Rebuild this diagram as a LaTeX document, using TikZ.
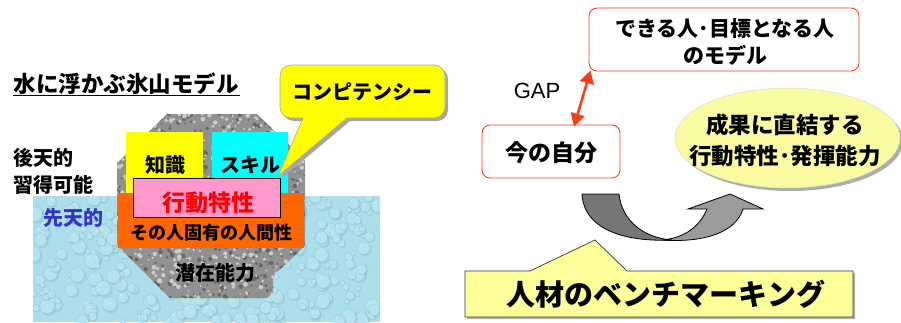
\documentclass[tikz,border=0pt]{standalone}
\usepackage{fontspec}
\setmainfont{Noto Sans CJK JP}
\newfontfamily\latinsans{Liberation Sans}
\usetikzlibrary{arrows.meta,shapes.geometric,shadows,calc}

\definecolor{waterblue}{RGB}{172,223,234}
\definecolor{dropedge}{RGB}{110,175,195}
\definecolor{granite}{RGB}{145,145,145}
\definecolor{kyellow}{RGB}{255,255,0}
\definecolor{kcyan}{RGB}{0,255,255}
\definecolor{korange}{RGB}{255,102,0}
\definecolor{kpink}{RGB}{255,153,204}
\definecolor{kblue}{RGB}{51,51,204}
\definecolor{gapred}{RGB}{255,60,20}
\definecolor{paleyellow}{RGB}{255,255,153}
\definecolor{ovalyellow}{RGB}{250,250,160}
\definecolor{arrowdark}{RGB}{118,118,118}
\definecolor{arrowlight}{RGB}{155,155,155}

\newcommand\fsz[1]{\fontsize{#1}{#1}\selectfont}

\tikzset{
  jp/.style={font=\bfseries, inner sep=0pt, text=black},
  modelbox/.style={draw=gapred, line width=0.9pt, rounded corners=8pt, fill=white, inner sep=0pt},
  gaptip/.tip={Triangle[length=13pt,width=14pt]},
  gaparrow/.style={draw=gapred, fill=gapred, line width=2.6pt, arrows={gaptip-gaptip}},
}

\begin{document}
\begin{tikzpicture}[x=1pt,y=-1pt]
\useasboundingbox (0,0) rectangle (901,322);

% ---------------- iceberg model ----------------
\node[jp, font=\bfseries\fsz{22.5}] (title) at (126,84) {水に浮かぶ氷山モデル};
\draw[line width=1.4pt] (13,95.5) -- (240,95.5);

% water with droplets
\begin{scope}
  \clip (33,196) rectangle (380,322);
  \fill[waterblue] (33,196) rectangle (380,322);
  \pgfmathsetseed{17}
  \foreach \i in {1,...,320}{
    \pgfmathsetmacro{\px}{33+347*rnd}
    \pgfmathsetmacro{\py}{196+126*rnd}
    \pgfmathsetmacro{\pr}{2+6*rnd}
    \fill[dropedge,opacity=0.22] ($(\px,\py)+(0.25*\pr,0.25*\pr)$) circle[radius=\pr pt];
    \fill[waterblue!88!white] (\px,\py) circle[radius=0.9*\pr pt];
    \draw[dropedge,opacity=0.3,line width=0.4pt] (\px,\py) circle[radius=\pr pt];
    \fill[white,opacity=0.35] ($(\px,\py)+(-0.4*\pr,-0.4*\pr)$) circle[radius=0.15*\pr pt];
  }
\end{scope}

% granite iceberg
\def\bergpath{(167,114) -- (257,114) -- (305,160) -- (305,246) -- (273,276) -- (273,292) -- (267,298) -- (170,298) -- (117,245) -- (117,163) -- cycle}
\begin{scope}
  \clip \bergpath;
  \fill[granite] \bergpath;
  \pgfmathsetseed{5}
  \foreach \i in {1,...,650}{
    \pgfmathsetmacro{\px}{115+192*rnd}
    \pgfmathsetmacro{\py}{112+188*rnd}
    \pgfmathsetmacro{\pr}{0.8+1.6*rnd}
    \fill[black!60] (\px,\py) circle[radius=\pr pt];
  }
  \foreach \i in {1,...,650}{
    \pgfmathsetmacro{\px}{115+192*rnd}
    \pgfmathsetmacro{\py}{112+188*rnd}
    \pgfmathsetmacro{\pr}{0.8+1.6*rnd}
    \fill[white!80!black] (\px,\py) circle[radius=\pr pt];
  }
\end{scope}

% layers of the model
\fill[kyellow] (126,132) rectangle (203,193);
\fill[kcyan] (212,132) rectangle (288,193);
\fill[korange] (118,193) rectangle (304,248);
\draw[fill=kpink, line width=0.9pt] (133,178) rectangle (280,217);

\node[jp, font=\bfseries\fsz{20}] (knowledge) at (165,165) {知識};
\node[jp, font=\bfseries\fsz{20}] (skill) at (250,165) {スキル};
\node[jp, font=\bfseries\fsz{23}, text=red] (behavior) at (208,203) {行動特性};
\node[jp, font=\bfseries\fsz{18}] (nature) at (211,233) {その人固有の人間性};
\node[jp, font=\bfseries\fsz{20}] (latent) at (215,273) {潜在能力};

\node[jp, font=\bfseries\fontsize{20}{27}\selectfont, align=left, anchor=west] (acquired) at (13,171) {後天的\\習得可能};
\node[jp, font=\bfseries\fsz{20}, text=kblue] (innate) at (73,218) {先天的};

% competency speech balloon
\begin{scope}[shift={(3,3)}]
  \fill[gray!70] (303,118) -- (278,176) -- (347,118) [rounded corners=11pt] -- (445,118) -- (445,65) -- (280,65) -- (280,118) [sharp corners] -- cycle;
\end{scope}
\draw[fill=kyellow, draw=gray!70, line width=0.6pt] (303,118) -- (278,176) -- (347,118) [rounded corners=11pt] -- (445,118) -- (445,65) -- (280,65) -- (280,118) [sharp corners] -- cycle;
\node[jp, font=\bfseries\fsz{20}] (competency) at (362,92) {コンピテンシー};

% ---------------- benchmarking ----------------
\node[modelbox, minimum width=270pt, minimum height=63pt] (target) at (724,39.5) {};
\node[jp, font=\bfseries\fontsize{21}{27}\selectfont, align=center] (targettext) at (725,41.5) {できる人･目標となる人\\のモデル};

\node[modelbox, minimum width=138pt, minimum height=53pt] (me) at (551,151.5) {};
\node[jp, font=\bfseries\fsz{23}] (metext) at (551,153) {今の自分};

\draw[gaparrow] ([xshift=23pt,yshift=-2pt]me.north) -- ([xshift=2pt,yshift=1pt]target.south west);
\node[inner sep=0pt, font=\latinsans\fsz{22}] (gap) at (537,91) {GAP};

\node[ellipse, fill=ovalyellow, draw=gray!30, line width=0.5pt, minimum width=225pt, minimum height=100pt,
      drop shadow={shadow xshift=3pt, shadow yshift=-3pt, fill=gray!65, opacity=1}] (result) at (787.5,138) {};
\node[jp, font=\bfseries\fontsize{22.5}{31}\selectfont, align=center] (resulttext) at (785,140.5) {成果に直結する\\行動特性･発揮能力};

% curved arrow
\draw[fill=arrowlight, line width=0.8pt, line join=miter]
  (662,240) .. controls (705,243) and (736,232) .. (743,209) -- (763,209) -- (730,194) -- (688,209) -- (707,209)
  .. controls (700,226) and (685,238) .. (662,240) -- cycle;
\draw[fill=arrowdark, line width=0.8pt]
  (582,194) -- (619,194) .. controls (622,222) and (645,238) .. (672,240)
  .. controls (630,242) and (584,232) .. (582,194) -- cycle;

% benchmarking callout
\begin{scope}[shift={(2,2)}]
  \fill[gray!60] (465,271) -- (530,271) -- (595,240) -- (627,271) -- (853,271) -- (853,317) -- (465,317) -- cycle;
\end{scope}
\draw[fill=paleyellow, draw=black!80, line width=0.7pt]
  (465,271) -- (530,271) -- (595,240) -- (627,271) -- (853,271) -- (853,317) -- (465,317) -- cycle;
\node[jp, font=\bfseries\fsz{29}] (benchmark) at (666,294) {人材のベンチマーキング};

\end{tikzpicture}
\end{document}
